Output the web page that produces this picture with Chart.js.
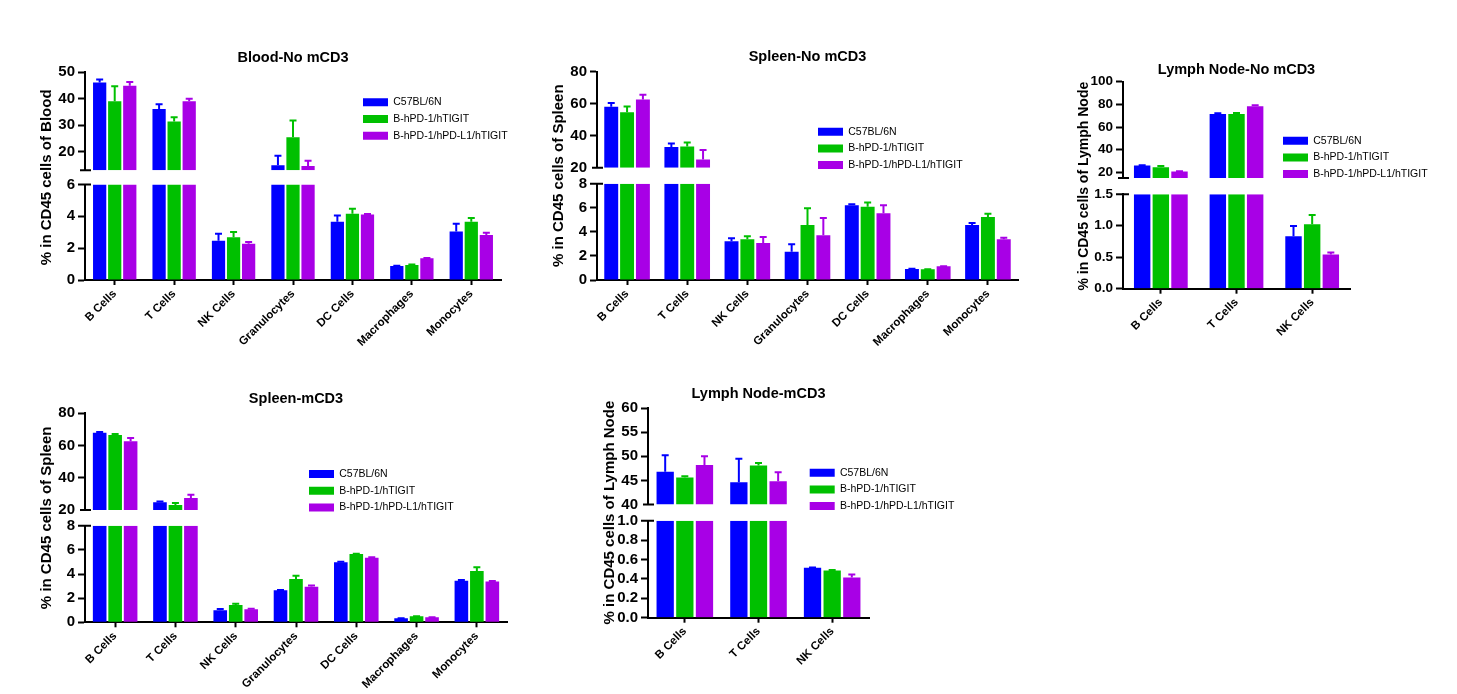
<!DOCTYPE html>
<html><head><meta charset="utf-8">
<script src="https://cdn.jsdelivr.net/npm/chart.js@4.4.1/dist/chart.umd.min.js"></script>
<style>
html,body{margin:0;padding:0;background:#fff;}
body{width:1457px;height:694px;position:relative;overflow:hidden;}
.panel{position:absolute;}
canvas{display:block;}
</style></head><body>
<div class="panel"><canvas id="c1"></canvas></div>
<div class="panel"><canvas id="c2"></canvas></div>
<div class="panel"><canvas id="c3"></canvas></div>
<div class="panel"><canvas id="c4"></canvas></div>
<div class="panel"><canvas id="c5"></canvas></div>
<script>
// ---------- DATA ----------
const seriesNames = ['C57BL/6N', 'B-hPD-1/hTIGIT', 'B-hPD-1/hPD-L1/hTIGIT'];
const cells7 = ['B Cells', 'T Cells', 'NK Cells', 'Granulocytes', 'DC Cells', 'Macrophages', 'Monocytes'];
const cells3 = ['B Cells', 'T Cells', 'NK Cells'];

// Blood - No mCD3
const bloodC57 = [46.1, 36.1, 2.46, 14.9, 3.66, 0.88, 3.05];
const bloodC57Err = [1.2, 1.8, 0.45, 3.6, 0.40, 0.02, 0.49];
const bloodTIGIT = [39.1, 31.4, 2.69, 25.5, 4.17, 0.95, 3.66];
const bloodTIGITErr = [5.6, 1.6, 0.32, 6.3, 0.31, 0.02, 0.23];
const bloodL1 = [44.9, 39.1, 2.27, 14.6, 4.11, 1.37, 2.82];
const bloodL1Err = [1.4, 0.9, 0.11, 2.0, 0.04, 0.01, 0.15];
const bloodTopTicks = [13, 20, 30, 40, 50];
const bloodTopLabels = ['', '20', '30', '40', '50'];
const bloodBotTicks = [0, 2, 4, 6];
const bloodBotLabels = ['0', '2', '4', '6'];

// Spleen - No mCD3
const spleenC57 = [58.1, 32.9, 3.21, 2.35, 6.2, 0.91, 4.57];
const spleenC57Err = [2.3, 2.3, 0.25, 0.61, 0.09, 0.03, 0.17];
const spleenTIGIT = [54.6, 33.3, 3.38, 4.57, 6.09, 0.89, 5.24];
const spleenTIGITErr = [3.7, 2.5, 0.25, 1.39, 0.34, 0.01, 0.27];
const spleenL1 = [62.7, 25.2, 3.07, 3.71, 5.54, 1.14, 3.38];
const spleenL1Err = [2.9, 5.8, 0.5, 1.44, 0.66, 0.01, 0.14];
const spleenTopTicks = [20, 40, 60, 80];
const spleenTopLabels = ['20', '40', '60', '80'];
const spleenBotTicks = [0, 2, 4, 6, 8];
const spleenBotLabels = ['0', '2', '4', '6', '8'];

// Lymph Node - No mCD3
const lnC57 = [26.0, 71.6, 0.835];
const lnC57Err = [0.3, 0.5, 0.16];
const lnTIGIT = [24.5, 71.6, 1.025];
const lnTIGITErr = [1.2, 0.8, 0.145];
const lnL1 = [20.8, 78.4, 0.544];
const lnL1Err = [0.2, 0.9, 0.03];
const lnTopTicks = [15, 20, 40, 60, 80, 100];
const lnTopLabels = ['', '20', '40', '60', '80', '100'];
const lnBotTicks = [0, 0.5, 1.0, 1.5];
const lnBotLabels = ['0.0', '0.5', '1.0', '1.5'];

// Spleen - mCD3
const spleenM_C57 = [68.0, 24.8, 0.99, 2.65, 4.97, 0.33, 3.45];
const spleenM_C57Err = [0.4, 0.4, 0.11, 0.02, 0.05, 0.01, 0.05];
const spleenM_TIGIT = [66.6, 23.1, 1.43, 3.59, 5.66, 0.5, 4.25];
const spleenM_TIGITErr = [0.6, 1.2, 0.11, 0.27, 0.02, 0.01, 0.3];
const spleenM_L1 = [62.6, 27.4, 1.08, 2.95, 5.35, 0.41, 3.37];
const spleenM_L1Err = [2.1, 2.1, 0.05, 0.09, 0.03, 0.01, 0.05];

// Lymph Node - mCD3
const lnM_C57 = [46.8, 44.6, 0.514];
const lnM_C57Err = [3.4, 4.9, 0.003];
const lnM_TIGIT = [45.6, 48.1, 0.486];
const lnM_TIGITErr = [0.25, 0.5, 0.007];
const lnM_L1 = [48.2, 44.8, 0.414];
const lnM_L1Err = [1.8, 1.9, 0.031];
const lnMTopTicks = [40, 45, 50, 55, 60];
const lnMTopLabels = ['40', '45', '50', '55', '60'];
const lnMBotTicks = [0, 0.2, 0.4, 0.6, 0.8, 1.0];
const lnMBotLabels = ['0.0', '0.2', '0.4', '0.6', '0.8', '1.0'];

// ---------- STYLE ----------
const COLORS = ['#0000FF', '#00C000', '#A800E6'];
const FONT = "'Liberation Sans', Arial, sans-serif";
Chart.defaults.font.family = FONT;
Chart.defaults.color = '#000';

const YW = 47, XH = 70, TFS = 14.5, TLH = TFS * 1.2;
const LEG_FS = 10.5, LEG_PAD = 6.2, LEG_IH = Math.max(LEG_FS, 8);

function makePanel(cfg) {
  const canvas = document.getElementById(cfg.id);
  const div = canvas.parentElement;
  const box = cfg.box, area = cfg.area;
  div.style.left = box.x + 'px';
  div.style.top = box.y + 'px';
  canvas.width = box.w; canvas.height = box.h;
  canvas.style.width = box.w + 'px'; canvas.style.height = box.h + 'px';

  const padL = area.L - box.x - YW;
  const padR = box.x + box.w - area.R;
  const padT = cfg.titleY - TLH / 2 - box.y;
  const titlePadB = area.T - (cfg.titleY + TLH / 2);
  const padB = box.y + box.h - area.B - XH;
  const wTop = area.brkTop - area.T;
  const wGap = area.brkBot - area.brkTop;
  const wBot = area.B - area.brkBot;

  const datasets = [];
  cfg.series.forEach((vals, s) => {
    ['yTop', 'yBot'].forEach(axis => {
      datasets.push({
        label: seriesNames[s], data: vals, errors: cfg.errors[s], yAxisID: axis, xAxisID: 'x',
        stack: 'g' + s, backgroundColor: COLORS[s], borderWidth: 0,
        categoryPercentage: cfg.catPct, barPercentage: 0.88
      });
    });
  });

  const top = cfg.top, bot = cfg.bot;
  const transparent = 'rgba(0,0,0,0)';

  const segPlugin = {
    id: 'segClipErr',
    beforeDatasetDraw(chart, args) {
      const meta = args.meta, ctx = chart.ctx;
      const xs = meta.xScale, ys = meta.yScale;
      ctx.save();
      ctx.beginPath();
      ctx.rect(xs.left - 2, ys.top, xs.right - xs.left + 4, ys.bottom - ys.top);
      ctx.clip();
    },
    afterDatasetDraw(chart, args) {
      const meta = args.meta, ctx = chart.ctx;
      const ds = chart.data.datasets[args.index];
      const ys = meta.yScale;
      ctx.strokeStyle = ds.backgroundColor;
      ctx.lineWidth = 2;
      meta.data.forEach((el, i) => {
        const v = ds.data[i], e = ds.errors[i];
        const y0 = ys.getPixelForValue(v);
        const y1 = ys.getPixelForValue(v + e);
        ctx.beginPath();
        ctx.moveTo(el.x, y0);
        ctx.lineTo(el.x, y1);
        ctx.moveTo(el.x - 3.5, y1);
        ctx.lineTo(el.x + 3.5, y1);
        ctx.stroke();
      });
      ctx.restore();
    },
    beforeDraw(chart) {
      const lg = chart.legend;
      if (!lg) return;
      const w = lg.width, h = lg.height;
      lg.left = cfg.legend.x - box.x - LEG_PAD;
      lg.top = cfg.legend.y - box.y - LEG_PAD - LEG_IH / 2;
      lg.right = lg.left + w + 30;
      lg.bottom = lg.top + h;
    },
    afterDraw(chart) {
      const ctx = chart.ctx;
      const yt = chart.scales.yTop, yb = chart.scales.yBot;
      const x = yt.right;
      ctx.save();
      ctx.strokeStyle = '#000';
      ctx.lineWidth = 2;
      ctx.beginPath();
      ctx.moveTo(x - 5, yt.bottom); ctx.lineTo(x + 6, yt.bottom);
      ctx.moveTo(x - 7, yb.top); ctx.lineTo(x + 6, yb.top);
      ctx.stroke();
      ctx.restore();
    }
  };

  const yBase = (seg, tickColorFn) => ({
    type: 'linear', position: 'left', stack: 'v', stacked: false,
    min: seg.ticks[0], max: seg.ticks[seg.ticks.length - 1],
    afterBuildTicks: s => { s.ticks = seg.ticks.map(v => ({value: v})); },
    ticks: { autoSkip: false, callback: (v, i) => seg.labels[i], font: {size: cfg.tickFont, weight: 'bold'}, color: '#000', padding: 3 },
    grid: { drawOnChartArea: false, drawTicks: true, tickLength: 7, tickWidth: 2, tickColor: tickColorFn },
    border: { display: true, color: '#000', width: 2 },
    afterFit: s => { s.width = YW; }
  });

  return new Chart(canvas, {
    type: 'bar',
    data: { labels: cfg.categories, datasets },
    options: {
      responsive: false, animation: false, devicePixelRatio: 1,
      layout: { padding: { left: padL, right: padR, top: padT, bottom: padB } },
      plugins: {
        title: { display: true, text: cfg.title, fullSize: false, color: '#000',
          font: { size: TFS, weight: 'bold', family: FONT }, padding: { top: 0, bottom: titlePadB } },
        legend: {
          position: 'chartArea', align: 'start',
          labels: {
            boxWidth: 25, boxHeight: 8, padding: LEG_PAD, color: '#000',
            font: { size: LEG_FS, family: FONT },
            filter: (item, data) => data.datasets[item.datasetIndex].yAxisID === 'yBot'
          }
        },
        tooltip: { enabled: false }
      },
      scales: {
        x: {
          type: 'category', offset: true,
          grid: { display: true, drawOnChartArea: false, drawTicks: true, tickLength: 5, tickWidth: 2, tickColor: '#000', offset: false },
          border: { display: true, color: '#000', width: 2 },
          ticks: { autoSkip: false, maxRotation: 45, minRotation: 45, padding: 2, color: '#000', font: { size: 11.5, weight: 'bold' } },
          afterFit: s => { s.height = XH; }
        },
        yBot: Object.assign(yBase(bot, c => (c.index === bot.ticks.length - 1 ? transparent : '#000')), { weight: 1, stackWeight: wBot }),
        yGap: {
          type: 'linear', position: 'left', stack: 'v', weight: 2, stackWeight: wGap,
          ticks: { display: false }, grid: { display: false }, border: { display: false },
          title: { display: true, text: cfg.yTitle, color: '#000', padding: 0, font: { size: cfg.yTitleFont, weight: 'bold' } },
          afterFit: s => { s.width = YW; }
        },
        yTop: Object.assign(yBase(top, c => (c.index === 0 ? transparent : '#000')), { weight: 3, stackWeight: wTop })
      }
    },
    plugins: [segPlugin]
  });
}

makePanel({
  id: 'c1', title: 'Blood-No mCD3', yTitle: '% in CD45 cells of Blood',
  box: { x: 20, y: 30, w: 510, h: 330 },
  area: { L: 85, R: 501, T: 72.3, brkTop: 170.2, brkBot: 184.5, B: 280 },
  titleY: 57.5, tickFont: 15, yTitleFont: 15, catPct: 0.76,
  categories: cells7,
  series: [bloodC57, bloodTIGIT, bloodL1], errors: [bloodC57Err, bloodTIGITErr, bloodL1Err],
  top: { ticks: bloodTopTicks, labels: bloodTopLabels }, bot: { ticks: bloodBotTicks, labels: bloodBotLabels },
  legend: { x: 363, y: 102.3 }
});

makePanel({
  id: 'c2', title: 'Spleen-No mCD3', yTitle: '% in CD45 cells of Spleen',
  box: { x: 532, y: 30, w: 500, h: 330 },
  area: { L: 597, R: 1018, T: 71.7, brkTop: 167.7, brkBot: 183.7, B: 280 },
  titleY: 56.7, tickFont: 15, yTitleFont: 15, catPct: 0.79,
  categories: cells7,
  series: [spleenC57, spleenTIGIT, spleenL1], errors: [spleenC57Err, spleenTIGITErr, spleenL1Err],
  top: { ticks: spleenTopTicks, labels: spleenTopLabels }, bot: { ticks: spleenBotTicks, labels: spleenBotLabels },
  legend: { x: 818, y: 131.7 }
});

makePanel({
  id: 'c3', title: 'Lymph Node-No mCD3', yTitle: '% in CD45 cells of Lymph Node',
  box: { x: 1058, y: 40, w: 385, h: 330 },
  area: { L: 1123, R: 1350, T: 81.7, brkTop: 178, brkBot: 194.3, B: 288.7 },
  titleY: 70, tickFont: 13.5, yTitleFont: 14, catPct: 0.74,
  categories: cells3,
  series: [lnC57, lnTIGIT, lnL1], errors: [lnC57Err, lnTIGITErr, lnL1Err],
  top: { ticks: lnTopTicks, labels: lnTopLabels }, bot: { ticks: lnBotTicks, labels: lnBotLabels },
  legend: { x: 1283, y: 140.7 }
});

makePanel({
  id: 'c4', title: 'Spleen-mCD3', yTitle: '% in CD45 cells of Spleen',
  box: { x: 20, y: 370, w: 520, h: 324 },
  area: { L: 85, R: 507, T: 413.3, brkTop: 510, brkBot: 525.7, B: 622.3 },
  titleY: 399, tickFont: 15, yTitleFont: 15, catPct: 0.77,
  categories: cells7,
  series: [spleenM_C57, spleenM_TIGIT, spleenM_L1], errors: [spleenM_C57Err, spleenM_TIGITErr, spleenM_L1Err],
  top: { ticks: spleenTopTicks, labels: spleenTopLabels }, bot: { ticks: spleenBotTicks, labels: spleenBotLabels },
  legend: { x: 309, y: 474 }
});

makePanel({
  id: 'c5', title: 'Lymph Node-mCD3', yTitle: '% in CD45 cells of Lymph Node',
  box: { x: 583, y: 370, w: 420, h: 324 },
  area: { L: 648, R: 869, T: 408, brkTop: 504.5, brkBot: 520.7, B: 617.7 },
  titleY: 393.8, tickFont: 15, yTitleFont: 15, catPct: 0.8,
  categories: cells3,
  series: [lnM_C57, lnM_TIGIT, lnM_L1], errors: [lnM_C57Err, lnM_TIGITErr, lnM_L1Err],
  top: { ticks: lnMTopTicks, labels: lnMTopLabels }, bot: { ticks: lnMBotTicks, labels: lnMBotLabels },
  legend: { x: 809.7, y: 472.7 }
});
</script>
</body></html>
